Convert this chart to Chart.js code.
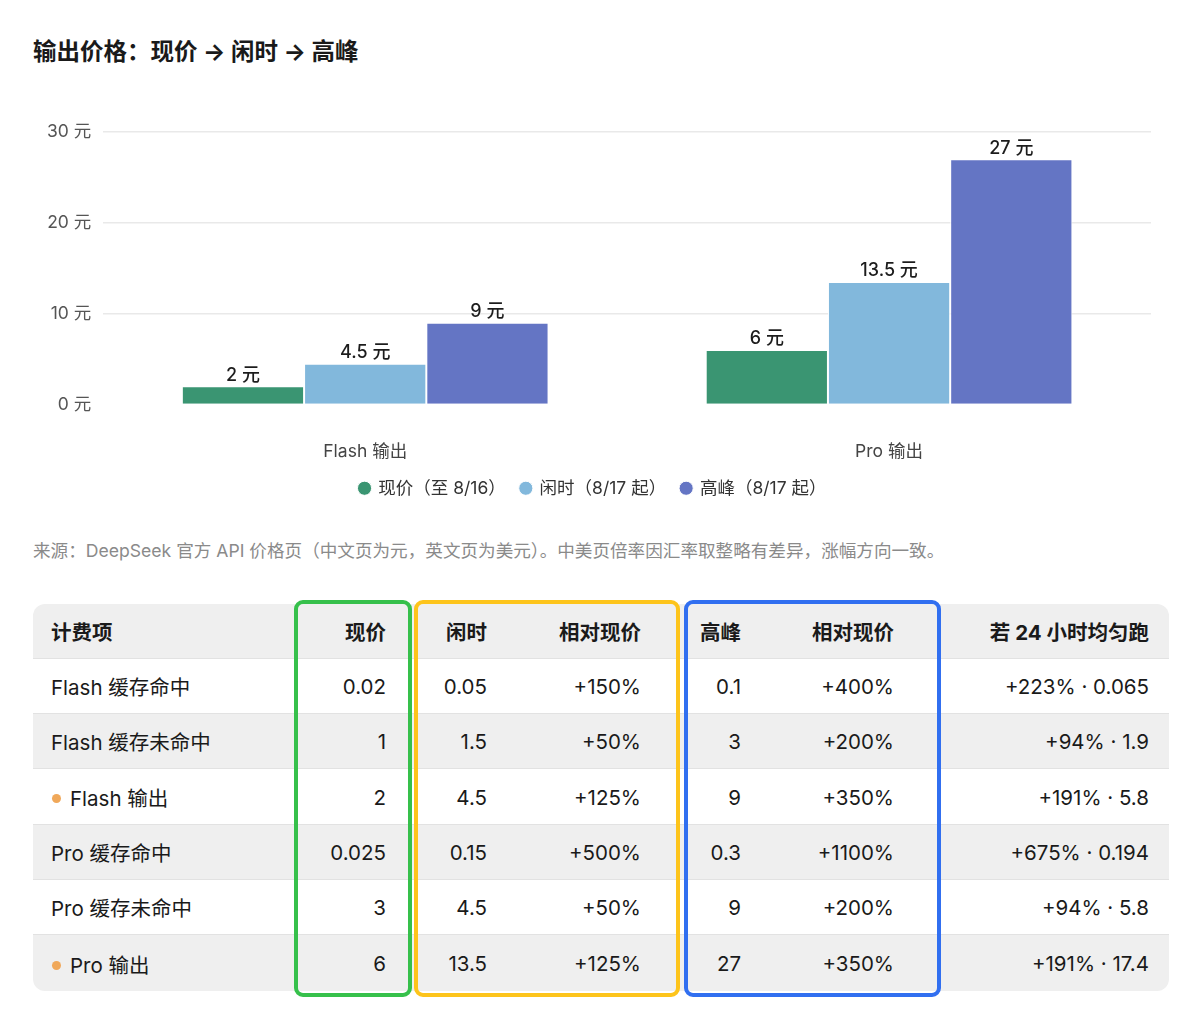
<!DOCTYPE html>
<html lang="zh">
<head>
    <meta charset="UTF-8">
    <title>输出价格：现价 → 闲时 → 高峰</title>
    <script src="https://cdn.jsdelivr.net/npm/chart.js"></script>
    <style>
        body {
            margin: 0;
            background: #fff;
            font-family: Inter, "Noto Sans CJK SC", sans-serif;
            color: #1a1a1a;
            width: 1200px;
            height: 1031px;
            position: relative;
            overflow: hidden;
        }
        h1 { position: absolute; left: 33px; top: 36px; margin: 0; font-size: 23.5px; font-weight: 700; line-height: 32px; }
        #chartBox { position: absolute; left: 33px; top: 104px; width: 1135px; height: 403px; }
        #source { position: absolute; left: 33px; top: 540px; font-size: 17.6px; color: #8a8a8a; line-height: 22px; white-space: nowrap; }
        #priceTable {
            position: absolute; left: 33px; top: 604px;
            border-collapse: separate; border-spacing: 0;
            border-radius: 12px; overflow: hidden;
            font-size: 20.5px; table-layout: fixed;
        }
        #priceTable th, #priceTable td {
            height: 55px; padding: 0 20px 0 18px; text-align: right;
            border-bottom: 1px solid #e2e2e2; white-space: nowrap; box-sizing: border-box;
        }
        #priceTable tr.marked td { height: 56px; padding-top: 1px; }
        #priceTable tr:last-child td { border-bottom: none; }
        #priceTable th { font-weight: 700; background: #efefef; }
        #priceTable th:first-child, #priceTable td:first-child { text-align: left; }
        #priceTable tbody tr:nth-child(even) td { background: #efefef; }
        #priceTable tbody tr:nth-child(odd) td { background: #fff; }
        .dot { display: inline-block; width: 9px; height: 9px; border-radius: 50%; background: #f0a85a; margin: 0 9px 0 1px; vertical-align: 3px; }
        .frame { position: absolute; top: 600px; height: 397px; border: 4px solid; border-radius: 9px; box-sizing: border-box; pointer-events: none; }
    </style>
</head>
<body>
    <h1>输出价格：现价 → 闲时 → 高峰</h1>

    <div id="chartBox"><canvas id="priceChart"></canvas></div>

    <div id="source">来源：DeepSeek 官方 API 价格页（中文页为元，英文页为美元）。中美页倍率因汇率取整略有差异，涨幅方向一致。</div>

    <table id="priceTable">
        <colgroup id="cols"></colgroup>
        <thead><tr id="headRow"></tr></thead>
        <tbody id="tableBody"></tbody>
    </table>

    <div class="frame" style="left:294px; width:118px; border-color:#36c04b;"></div>
    <div class="frame" style="left:414px; width:266px; border-color:#fdc41b;"></div>
    <div class="frame" style="left:684px; width:257px; border-color:#316ff0;"></div>

    <script>
        // chart data
        const categories = ['Flash 输出', 'Pro 输出'];
        const seriesNames = ['现价（至 8/16）', '闲时（8/17 起）', '高峰（8/17 起）'];
        const currentPrice = [2, 6];
        const idlePrice = [4.5, 13.5];
        const peakPrice = [9, 27];
        const yMax = 30;
        const yStep = 10;

        // table data
        const tableHeaders = ['计费项', '现价', '闲时', '相对现价', '高峰', '相对现价', '若 24 小时均匀跑'];
        const itemNames = ['Flash 缓存命中', 'Flash 缓存未命中', 'Flash 输出', 'Pro 缓存命中', 'Pro 缓存未命中', 'Pro 输出'];
        const markedItems = ['Flash 输出', 'Pro 输出'];
        const nowCol = ['0.02', '1', '2', '0.025', '3', '6'];
        const idleCol = ['0.05', '1.5', '4.5', '0.15', '4.5', '13.5'];
        const idleChange = ['+150%', '+50%', '+125%', '+500%', '+50%', '+125%'];
        const peakCol = ['0.1', '3', '9', '0.3', '9', '27'];
        const peakChange = ['+400%', '+200%', '+350%', '+1100%', '+200%', '+350%'];
        const evenRun = ['+223% · 0.065', '+94% · 1.9', '+191% · 5.8', '+675% · 0.194', '+94% · 5.8', '+191% · 17.4'];
        const colWidths = [262, 111, 101, 154, 100, 153, 255];

        const seriesColors = ['#3a9572', '#82b8dc', '#6475c4'];

        // build table
        document.getElementById('cols').innerHTML = colWidths.map(w => `<col style="width:${w}px">`).join('');
        document.getElementById('priceTable').style.width = colWidths.reduce((a, b) => a + b, 0) + 'px';
        document.getElementById('headRow').innerHTML = tableHeaders.map(h => `<th>${h}</th>`).join('');
        let bodyHtml = '';
        itemNames.forEach((name, i) => {
            const marked = markedItems.includes(name);
            const label = marked ? `<span class="dot"></span>${name}` : name;
            const cells = [label, nowCol[i], idleCol[i], idleChange[i], peakCol[i], peakChange[i], evenRun[i]];
            bodyHtml += `<tr${marked ? ' class="marked"' : ''}>` + cells.map(c => `<td>${c}</td>`).join('') + '</tr>';
        });
        document.getElementById('tableBody').innerHTML = bodyHtml;

        // value labels above bars
        const barValueLabels = {
            id: 'barValueLabels',
            afterDatasetsDraw(chart) {
                const ctx = chart.ctx;
                ctx.save();
                ctx.font = '500 18px Inter, "Noto Sans CJK SC", sans-serif';
                ctx.fillStyle = '#1c1c1c';
                ctx.textAlign = 'center';
                ctx.textBaseline = 'bottom';
                chart.data.datasets.forEach((ds, di) => {
                    chart.getDatasetMeta(di).data.forEach((bar, i) => {
                        ctx.fillText(ds.data[i] + ' 元', bar.x, bar.y - 2);
                    });
                });
                ctx.restore();
            }
        };

        Chart.defaults.font.family = 'Inter, "Noto Sans CJK SC", sans-serif';
        Chart.defaults.font.size = 17.5;

        new Chart(document.getElementById('priceChart'), {
            type: 'bar',
            data: {
                labels: categories,
                datasets: [currentPrice, idlePrice, peakPrice].map((values, i) => ({
                    label: seriesNames[i],
                    data: values,
                    backgroundColor: seriesColors[i],
                    borderColor: '#ffffff',
                    borderWidth: 1,
                    categoryPercentage: 0.7,
                    barPercentage: 1.0
                }))
            },
            options: {
                responsive: true,
                maintainAspectRatio: false,
                animation: false,
                layout: { padding: { left: 2, right: 17, top: 28 } },
                plugins: {
                    legend: {
                        position: 'bottom',
                        labels: {
                            usePointStyle: true,
                            pointStyle: 'circle',
                            boxWidth: 10,
                            boxHeight: 10,
                            color: '#333',
                            padding: 15,
                            font: { size: 17.5 }
                        }
                    },
                    tooltip: { enabled: false }
                },
                scales: {
                    x: {
                        grid: { display: false, drawTicks: false },
                        border: { display: false },
                        ticks: { color: '#444', padding: 37, font: { size: 17.5 } },
                        afterFit: axis => { axis.height = 60; }
                    },
                    y: {
                        min: 0,
                        max: yMax,
                        border: { display: false },
                        grid: { drawTicks: false, color: ctx => ctx.tick.value === 0 ? 'rgba(0,0,0,0)' : '#e9e9e9', lineWidth: 1.5 },
                        ticks: { stepSize: yStep, color: '#555', padding: 12, font: { size: 17.5 }, callback: v => v + ' 元' }
                    }
                }
            },
            plugins: [barValueLabels]
        });
    </script>
</body>
</html>
